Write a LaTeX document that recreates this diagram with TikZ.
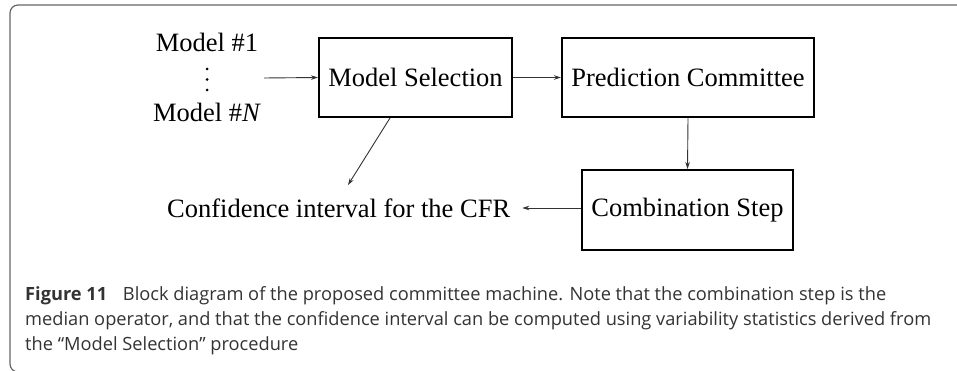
\documentclass[tikz,border=0pt]{standalone}
\usepackage{fontspec}
\setmainfont{Liberation Serif}
\newfontfamily\capfont{Open Sans}
\usetikzlibrary{arrows.meta}
% caption is set at 10pt and scaled so that its widest line is 906pt wide
\newcommand\capline{median operator, and that the confidence interval can be computed using variability statistics derived from}
\newlength\capw
\settowidth\capw{\capfont\fontsize{10}{12}\selectfont\capline}
\pgfmathsetmacro\capfac{906/\capw}
\newcommand\captext[1]{\scalebox{\capfac}{\capfont\fontsize{10}{12}\selectfont #1}}
\begin{document}
\begin{tikzpicture}[x=1pt,y=-1pt,
  block/.style={draw=black,line width=2pt,minimum height=79pt,inner sep=0pt,font=\fontsize{26.5}{30}\selectfont},
  lbl/.style={inner sep=0pt,font=\fontsize{26.5}{30}\selectfont},
  conn/.style={draw=black!80,line width=0.9pt,-{Stealth[length=7pt,width=4.5pt]}},
  captxt/.style={anchor=base west,inner sep=0pt,text=black!80}]
\useasboundingbox (0,0) rectangle (957,371);
\fill[white] (0,0) rectangle (957,371);
% frame around the figure
\draw[black!60,line width=1.2pt,rounded corners=8pt] (960,5) -- (10,5) -- (10,372) -- (40,372);
% inputs
\node[lbl] (m1) at (207,42) {Model \#1};
\foreach \y in {69,79.5,90} \fill (207,\y) circle (1.5pt);
\node[lbl] (mN) at (207,112) {Model \#\textit{N}};
\coordinate (in) at (264,78);
% blocks
\node[block,minimum width=193pt] (ms) at (415.5,77.5) {Model Selection};
\node[block,minimum width=252pt] (pc) at (688,77.5) {Prediction Committee};
\node[block,minimum width=211pt,minimum height=80pt] (cs) at (687.5,210) {Combination Step};
\node[lbl,anchor=west] (ci) at (167,208) {Confidence interval for the CFR};
% connectors
\draw[conn] (in) -- (ms.west);
\draw[conn] (ms.east) -- (pc.west);
\draw[conn] (pc.south) -- (cs.north);
\draw[conn] (cs.west |- ci.east) -- ([xshift=12pt]ci.east);
\coordinate (ciTop) at (348,185);
\draw[conn] (ms.south -| 390,0) -- (ciTop);
% caption
\node[captxt] (c1) at (25,300) {\captext{\textbf{Figure 11}\hspace{0.6em} Block diagram of the proposed committee machine. Note that the combination step is the}};
\node[captxt] (c2) at (25,325) {\captext{\capline}};
\node[captxt] (c3) at (25,350) {\captext{the “Model Selection” procedure}};
\end{tikzpicture}
\end{document}
